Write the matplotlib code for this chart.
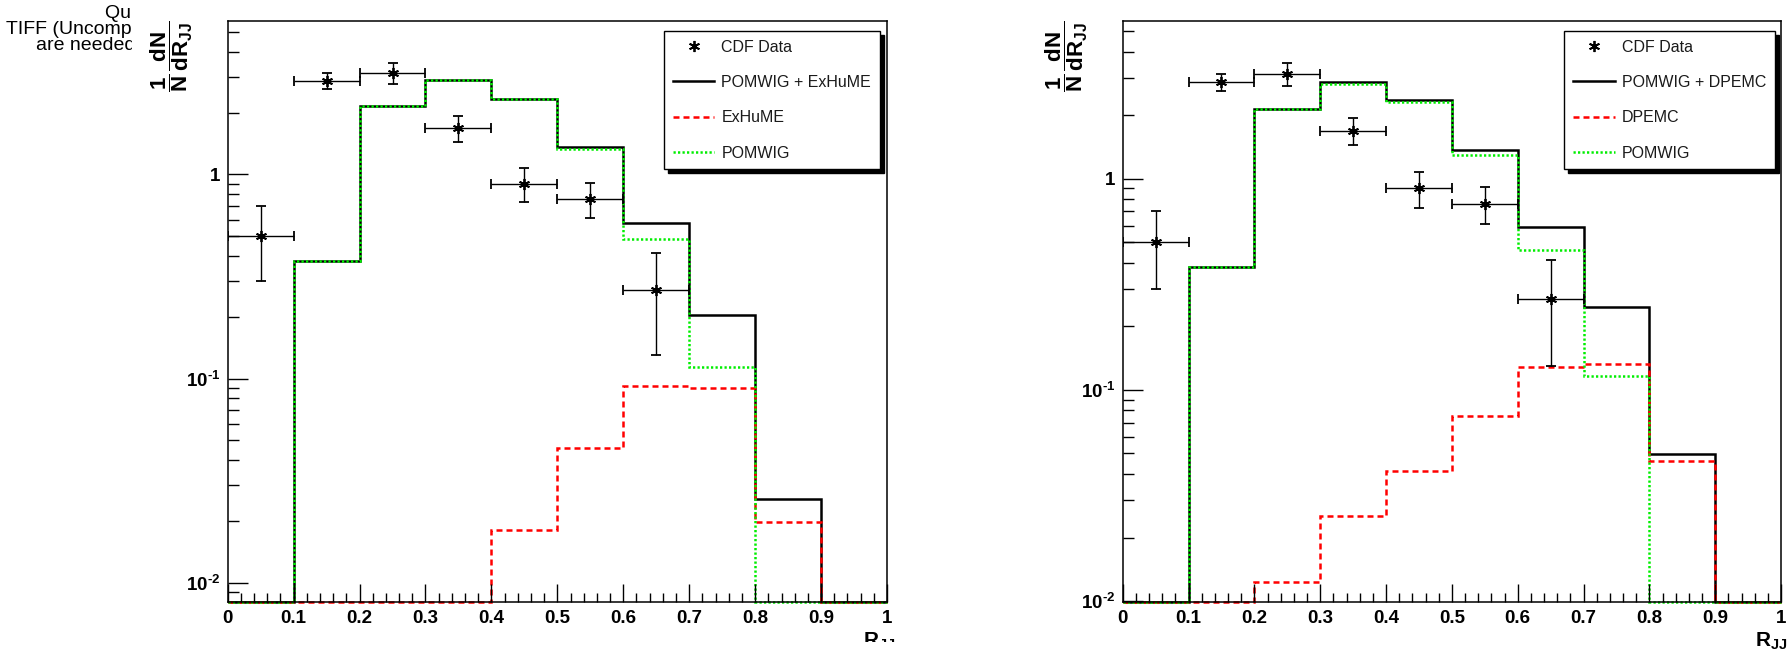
import numpy as np
import matplotlib
matplotlib.use("Agg")
import matplotlib.pyplot as plt
from matplotlib.lines import Line2D
from matplotlib.patches import Rectangle
from matplotlib.ticker import MultipleLocator, FuncFormatter, LogLocator, NullFormatter

plt.rcParams['font.family'] = ['Liberation Sans', 'DejaVu Sans']
plt.rcParams['mathtext.fontset'] = 'custom'
plt.rcParams['mathtext.rm'] = 'Liberation Sans:bold'
plt.rcParams['mathtext.bf'] = 'Liberation Sans:bold'
plt.rcParams['mathtext.it'] = 'Liberation Sans:italic'

# ---------------- data ----------------
bin_edges = [0.0, 0.1, 0.2, 0.3, 0.4, 0.5, 0.6, 0.7, 0.8, 0.9, 1.0]
x_ticks = [0.0, 0.1, 0.2, 0.3, 0.4, 0.5, 0.6, 0.7, 0.8, 0.9, 1.0]

cdf_x = [0.05, 0.15, 0.25, 0.35, 0.45, 0.55, 0.65]
cdf_xerr = [0.05, 0.05, 0.05, 0.05, 0.05, 0.05, 0.05]
cdf_y = [0.50, 2.87, 3.14, 1.69, 0.90, 0.76, 0.27]
cdf_yerr = [0.20, 0.26, 0.38, 0.25, 0.17, 0.15, 0.14]

left_total = [0.0, 0.376, 2.16, 2.91, 2.34, 1.36, 0.58, 0.205, 0.0256, 0.0]
left_exhume = [0.0, 0.0, 0.0, 0.0, 0.018, 0.0457, 0.092, 0.090, 0.0197, 0.0]
left_pomwig = [0.0, 0.376, 2.16, 2.91, 2.33, 1.33, 0.48, 0.114, 0.0, 0.0]

right_total = [0.0, 0.382, 2.13, 2.86, 2.35, 1.37, 0.59, 0.247, 0.0497, 0.0]
right_dpemc = [0.0, 0.0, 0.0123, 0.0254, 0.0413, 0.075, 0.128, 0.133, 0.0462, 0.0]
right_pomwig = [0.0, 0.382, 2.13, 2.80, 2.30, 1.30, 0.46, 0.116, 0.0, 0.0]

left_labels = ['CDF Data', 'POMWIG + ExHuME', 'ExHuME', 'POMWIG']
right_labels = ['CDF Data', 'POMWIG + DPEMC', 'DPEMC', 'POMWIG']

W, H = 1792, 655
fig = plt.figure(figsize=(W / 100, H / 100), dpi=100)

RED_DASH = (0, (2.4, 1.6))
GREEN_DOT = (0, (0.9, 0.9))
GREEN = '#00ee00'
ASTER = (6, 2, 0)


def yfmt(v, pos):
    e = int(round(np.log10(v)))
    if e == 0:
        return '1'
    return r'$\mathbf{10}^{\mathbf{\text{-}%d}}$' % (-e)


def panel(rect, total, model, pomwig, ymin, ymax, labels, leg_anchor):
    ax = fig.add_axes(rect)
    ax.set_yscale('log')
    ax.set_xlim(0, 1)
    ax.set_ylim(ymin, ymax)
    edges = np.array(bin_edges)
    for vals, col, ls in ((total, 'black', '-'), (model, 'red', RED_DASH),
                          (pomwig, GREEN, GREEN_DOT)):
        v = np.maximum(np.array(vals), ymin)
        ax.stairs(v, edges, baseline=None, color=col, linestyle=ls,
                  linewidth=1.8, clip_on=False)
    ax.errorbar(cdf_x, cdf_y, xerr=cdf_xerr, yerr=cdf_yerr, linestyle='none',
                marker=ASTER, markersize=8, markeredgewidth=1.3, color='black',
                ecolor='black', elinewidth=1.0, capsize=3.5, capthick=1.0, zorder=5)
    ax.set_xticks(x_ticks)
    ax.xaxis.set_minor_locator(MultipleLocator(0.02))
    ax.xaxis.set_major_formatter(FuncFormatter(lambda v, p: '%g' % v))
    ax.yaxis.set_major_locator(LogLocator(base=10))
    ax.yaxis.set_minor_locator(LogLocator(base=10, subs=np.arange(2, 10)))
    ax.yaxis.set_major_formatter(FuncFormatter(yfmt))
    ax.yaxis.set_minor_formatter(NullFormatter())
    ax.tick_params(which='both', direction='in', top=False, right=False,
                   width=1.0, color='black')
    ax.tick_params(axis='x', which='major', length=13, pad=6, labelsize=13.5)
    ax.tick_params(axis='x', which='minor', length=6.5)
    ax.tick_params(axis='y', which='major', length=14.4, pad=5.5, labelsize=13.5)
    ax.tick_params(axis='y', which='minor', length=7.9)
    for lab in ax.get_xticklabels() + ax.get_yticklabels():
        lab.set_fontweight('bold')
    for s in ax.spines.values():
        s.set_linewidth(1.1)
    handles = [
        Line2D([], [], linestyle='none', marker=ASTER, markersize=8,
               markeredgewidth=1.3, color='black'),
        Line2D([], [], color='black', linewidth=1.8),
        Line2D([], [], color='red', linewidth=1.8, linestyle=RED_DASH),
        Line2D([], [], color=GREEN, linewidth=1.8, linestyle=GREEN_DOT),
    ]
    leg = ax.legend(handles, labels, loc='upper right', bbox_to_anchor=leg_anchor,
                    borderaxespad=0, fontsize=11.5, frameon=True, fancybox=False,
                    shadow={'color': 'black', 'alpha': 1, 'ox': 2.8, 'oy': -2.8},
                    handlelength=2.6, handletextpad=0.45, labelspacing=1.27,
                    borderpad=0.55, edgecolor='black', framealpha=1)
    leg.get_frame().set_linewidth(1.0)
    for t in leg.get_texts():
        t.set_color('#1a1a1a')
    return ax


bottom = (H - 602) / H
height = 581 / H
axL = panel([227.7 / W, bottom, 659.3 / W, height], left_total, left_exhume,
            left_pomwig, 0.00803, 5.65, left_labels, (0.9894, 0.9828))
axR = panel([1122.7 / W, bottom, 658.3 / W, height], right_total, right_dpemc,
            right_pomwig, 0.0099, 5.58, right_labels, (0.9909, 0.9828))

ylab = r'$\dfrac{\mathbf{1}}{\mathbf{N}}\,\dfrac{\mathbf{dN}}{\mathbf{dR}_{\mathbf{JJ}}}$'
fig.text((227.7 - 33) / W, 1 - 20 / H, ylab, rotation=90, ha='right', va='top',
         fontsize=16)
fig.text((1122.7 - 33) / W, 1 - 20 / H, ylab, rotation=90, ha='right', va='top',
         fontsize=16)

fig.text(895 / W, 1 - 631 / H, r'$\mathbf{R_{JJ}}$', ha='right', va='top', fontsize=15)
fig.text(1787 / W, 1 - 631 / H, r'$\mathbf{R_{JJ}}$', ha='right', va='top', fontsize=15)
# the left picture is cut off just below its axis title
fig.add_artist(Rectangle((140 / W, 0), 770 / W, (H - 642) / H, transform=fig.transFigure,
                         facecolor='white', edgecolor='none', zorder=10))

# clipped QuickTime placeholder text at top-left
axq = fig.add_axes([0, 1 - 62 / H, 132 / W, 62 / H])
axq.axis('off')
qt_lines = ['QuickTime\u2122 and a', 'TIFF (Uncompressed) decompressor',
            'are needed to see this picture.']
qt_x = [105, 6, 36]
qt_y = [13, 29, 45]
for s, xx, yy in zip(qt_lines, qt_x, qt_y):
    axq.text(xx / W, 1 - yy / H, s, transform=fig.transFigure, ha='left',
             va='center', fontsize=14, clip_on=True)

fig.savefig('out.png', dpi=100)
